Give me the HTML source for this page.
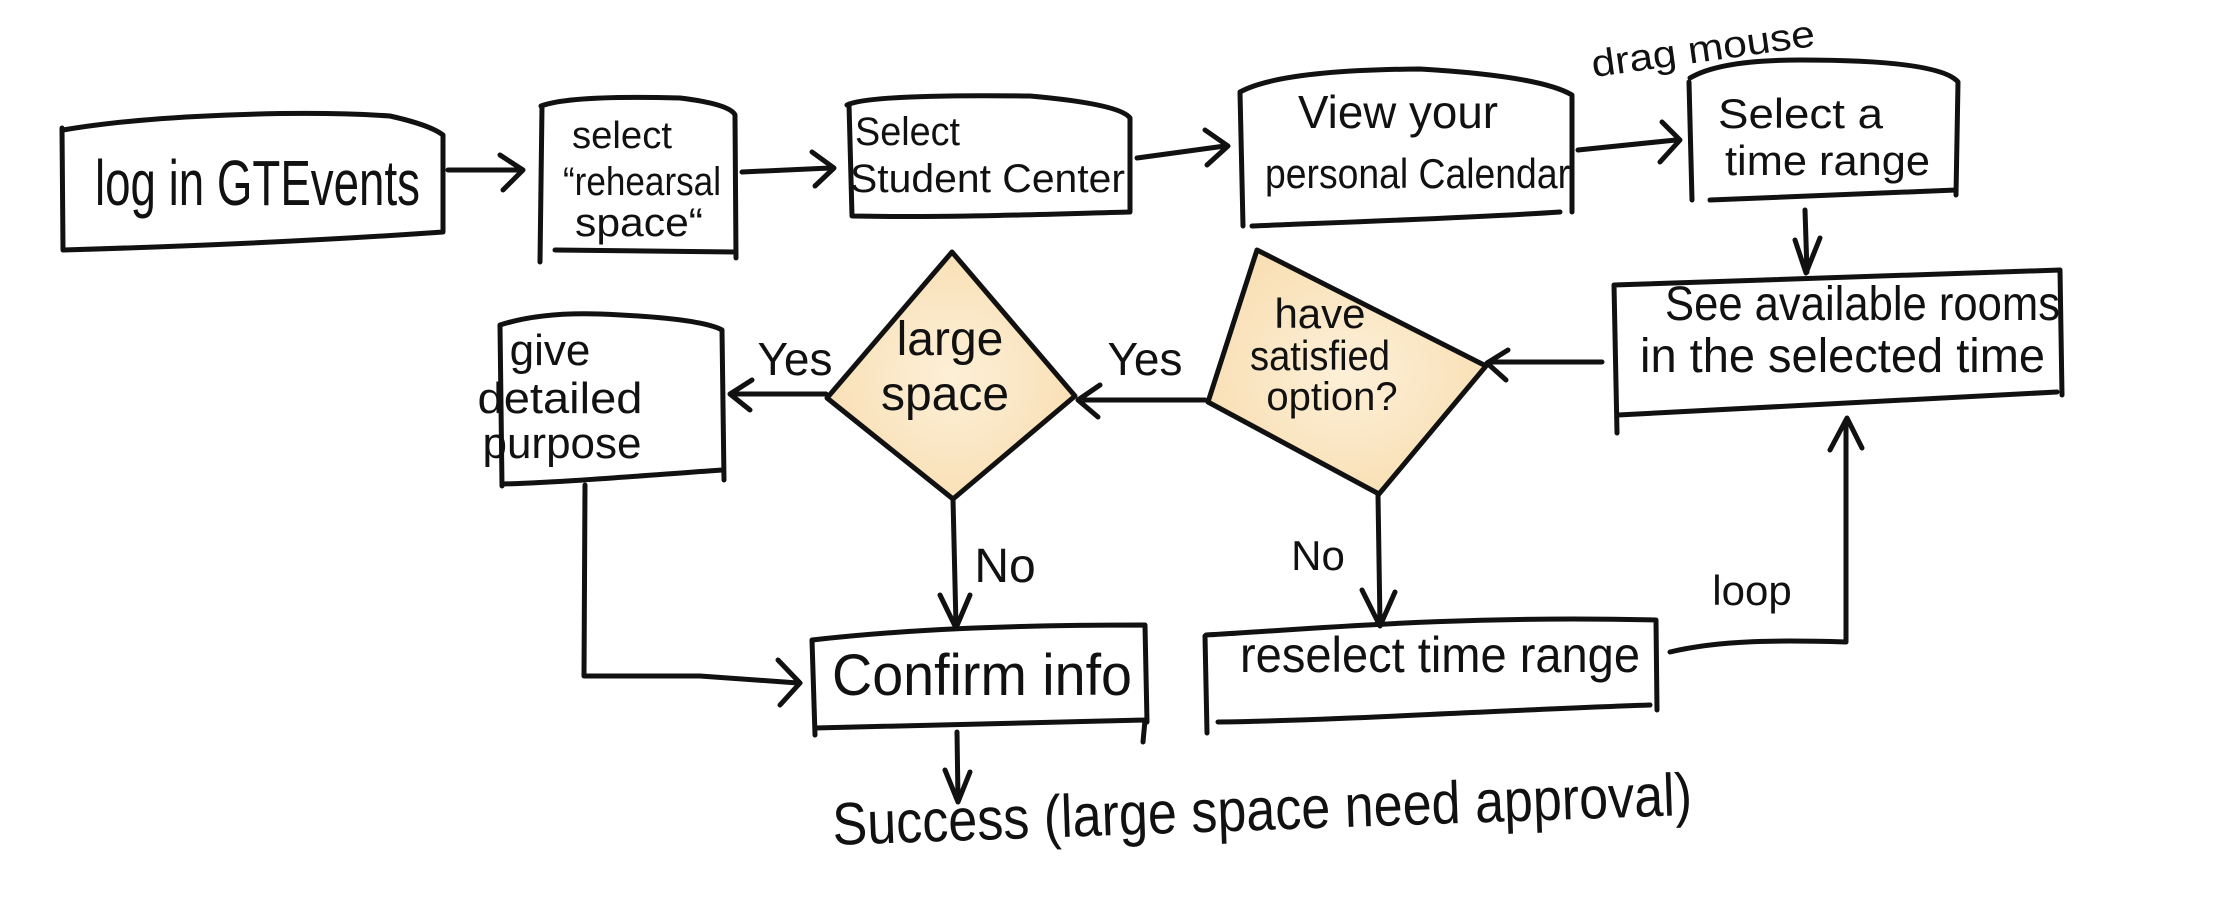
<!DOCTYPE html>
<html><head><meta charset="utf-8"><style>
html,body{margin:0;padding:0;background:#fff;}
svg{display:block;}
text{font-family:"Liberation Sans Narrow","Liberation Sans",sans-serif;fill:#111;}
</style></head><body>
<svg width="2224" height="914" viewBox="0 0 2224 914" xmlns="http://www.w3.org/2000/svg">
<defs>
<radialGradient id="g" cx="50%" cy="50%" r="60%">
<stop offset="0" stop-color="#fdf0d8"/><stop offset="1" stop-color="#f8ddb0"/>
</radialGradient>
</defs>
<g fill="none" stroke="#111" stroke-width="5" stroke-linecap="round" stroke-linejoin="round">
<path d="M63,130 C150,115 300,110 390,116 Q430,125 443,135 L443,232 M443,232 C330,240 200,246 63,250 L62,128"/>
<path d="M448,170 L520,170 M500,155 L523,170 L503,190"/>
<path d="M541,106 Q570,95 680,98 Q730,104 735,115 L736,258 M735,252 L555,250 M542,106 L540,262"/>
<path d="M742,172 L830,168 M812,152 L834,168 L815,186"/>
<path d="M847,105 Q870,94 1030,96 Q1120,104 1130,118 L1130,212 M1130,212 C1050,214 950,218 852,216 L849,104"/>
<path d="M1137,158 L1225,146 M1205,130 L1228,146 L1207,165"/>
<path d="M1240,92 Q1280,70 1420,69 Q1540,76 1572,95 L1572,212 M1560,212 C1470,218 1350,222 1252,226 M1240,92 L1243,226"/>
<path d="M1578,150 L1676,140 M1662,122 L1680,140 L1660,162"/>
<path d="M1690,78 Q1720,60 1800,60 Q1940,60 1958,82 L1956,195 M1956,190 L1710,200 M1689,82 L1692,200"/>
<path d="M1805,210 L1807,272 M1795,240 L1806,273 L1820,238"/>
<path d="M1614,285 C1750,280 1900,274 2060,270 L2062,395 M2057,392 C1900,400 1750,408 1618,415 M1614,285 L1617,433"/>
<path d="M1602,362 L1490,362 M1508,350 L1487,363 L1506,380"/>
<path d="M1670,652 C1720,640 1780,640 1846,642 L1846,420 M1830,450 L1847,418 L1862,448"/>
<path d="M1257,250 L1486,366 L1379,494 L1208,402 Z" fill="url(#g)"/>
<path d="M1205,400 L1085,400 M1100,385 L1078,400 L1098,417"/>
<path d="M952,252 L1075,396 L953,499 L827,398 Z" fill="url(#g)"/>
<path d="M826,394 L735,394 M752,380 L730,394 L750,410"/>
<path d="M500,325 Q540,312 600,314 Q700,318 722,330 L724,480 M722,470 C650,475 570,482 503,484 M500,325 L502,486"/>
<path d="M585,485 L584,676 L700,676 L798,683 M778,660 L800,683 L780,705"/>
<path d="M953,499 L956,626 M940,595 L956,628 L970,595"/>
<path d="M812,640 C900,630 1000,625 1145,625 L1147,722 M1145,720 C1050,722 950,725 815,728 M812,640 L815,735 M1145,720 L1143,742"/>
<path d="M957,732 L958,800 M945,770 L958,802 L970,772"/>
<path d="M1378,495 L1380,624 M1362,590 L1380,626 L1395,592"/>
<path d="M1206,635 C1300,630 1450,615 1656,620 L1657,710 M1650,705 C1500,710 1350,720 1218,722 M1205,636 L1207,733"/>
</g>
<text x="95" y="205" font-size="64" textLength="325" lengthAdjust="spacingAndGlyphs">log in GTEvents</text>
<text x="572" y="148" font-size="38" textLength="100" lengthAdjust="spacingAndGlyphs">select</text>
<text x="563" y="195" font-size="40" textLength="158" lengthAdjust="spacingAndGlyphs">“rehearsal</text>
<text x="575" y="236" font-size="40" textLength="128" lengthAdjust="spacingAndGlyphs">space“</text>
<text x="855" y="145" font-size="40" textLength="105" lengthAdjust="spacingAndGlyphs">Select</text>
<text x="850" y="192" font-size="40" textLength="275" lengthAdjust="spacingAndGlyphs">Student Center</text>
<text x="1298" y="128" font-size="46" textLength="200" lengthAdjust="spacingAndGlyphs">View your</text>
<text x="1265" y="188" font-size="42" textLength="305" lengthAdjust="spacingAndGlyphs">personal Calendar</text>
<text x="1590" y="62" font-size="38" textLength="225" lengthAdjust="spacingAndGlyphs" transform="rotate(-8 1700 45)">drag mouse</text>
<text x="1718" y="128" font-size="42" textLength="165" lengthAdjust="spacingAndGlyphs">Select a</text>
<text x="1725" y="175" font-size="42" textLength="205" lengthAdjust="spacingAndGlyphs">time range</text>
<text x="1665" y="320" font-size="48" textLength="395" lengthAdjust="spacingAndGlyphs">See available rooms</text>
<text x="1640" y="372" font-size="48" textLength="405" lengthAdjust="spacingAndGlyphs">in the selected time</text>
<text x="1320" y="328" font-size="42" text-anchor="middle">have</text>
<text x="1320" y="370" font-size="42" text-anchor="middle" textLength="140" lengthAdjust="spacingAndGlyphs">satisfied</text>
<text x="1332" y="410" font-size="40" text-anchor="middle">option?</text>
<text x="950" y="355" font-size="48" text-anchor="middle">large</text>
<text x="945" y="410" font-size="48" text-anchor="middle">space</text>
<text x="550" y="365" font-size="44" text-anchor="middle">give</text>
<text x="560" y="413" font-size="44" text-anchor="middle" textLength="165" lengthAdjust="spacingAndGlyphs">detailed</text>
<text x="562" y="458" font-size="44" text-anchor="middle">purpose</text>
<text x="795" y="375" font-size="46" text-anchor="middle">Yes</text>
<text x="1145" y="375" font-size="46" text-anchor="middle">Yes</text>
<text x="1005" y="582" font-size="48" text-anchor="middle">No</text>
<text x="1318" y="570" font-size="42" text-anchor="middle">No</text>
<text x="1752" y="605" font-size="42" text-anchor="middle">loop</text>
<text x="832" y="695" font-size="58" textLength="300" lengthAdjust="spacingAndGlyphs">Confirm info</text>
<text x="1240" y="672" font-size="50" textLength="400" lengthAdjust="spacingAndGlyphs">reselect time range</text>
<text x="832" y="830" font-size="60" textLength="860" lengthAdjust="spacingAndGlyphs" transform="rotate(-2 1260 805)">Success (large space need approval)</text>
</svg>
</body></html>
